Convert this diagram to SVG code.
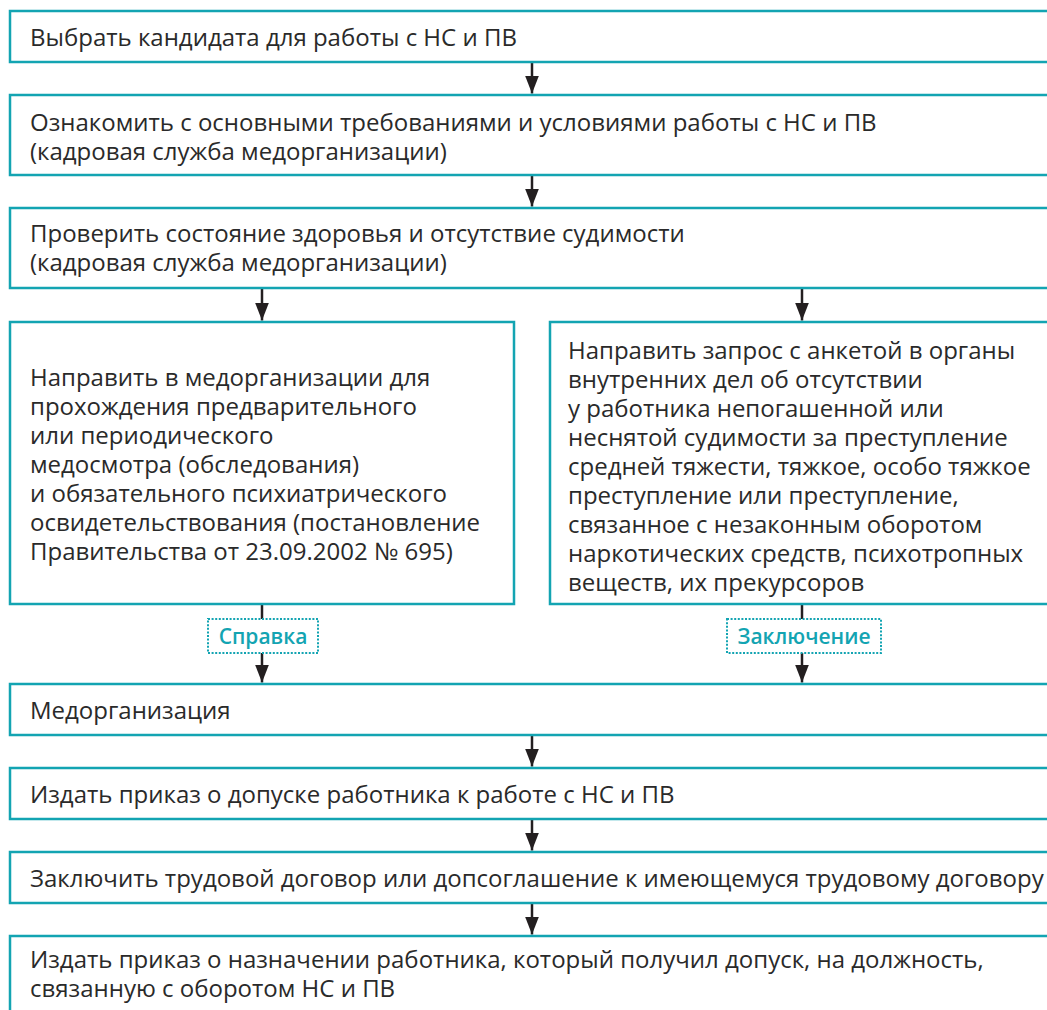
<svg xmlns="http://www.w3.org/2000/svg" width="1047" height="1010" viewBox="0 0 1047 1010">
<defs>
<style>
.box{fill:#fff;stroke:#13a4b2;stroke-width:2.5}
.t{font-family:"Open Sans","Noto Sans","DejaVu Sans",sans-serif;font-size:24px;fill:#2a2a2a}
.lbl{fill:#fff;stroke:#13a4b2;stroke-width:2;stroke-dasharray:2 1.6}
.lt{font-family:"Open Sans","Noto Sans",sans-serif;font-size:21px;font-weight:600;fill:#13a4b2;text-anchor:middle}
.c{stroke:#231f20;stroke-width:2.5;fill:none}
</style>
<marker id="ah" markerUnits="userSpaceOnUse" viewBox="0 0 18 14" refX="18" refY="7" markerWidth="18" markerHeight="14" orient="auto">
<path d="M0,0 L18,7 L0,14 z" fill="#231f20"/>
</marker>
</defs>
<rect width="1047" height="1010" fill="#fff"/>
<g id="connectors">
<line class="c" x1="532" y1="62" x2="532" y2="93.5" marker-end="url(#ah)"/>
<line class="c" x1="532" y1="175" x2="532" y2="206.5" marker-end="url(#ah)"/>
<line class="c" x1="262" y1="288" x2="262" y2="320.5" marker-end="url(#ah)"/>
<line class="c" x1="802" y1="288" x2="802" y2="320.5" marker-end="url(#ah)"/>
<line class="c" x1="262" y1="604" x2="262" y2="619"/>
<line class="c" x1="262" y1="653" x2="262" y2="682.5" marker-end="url(#ah)"/>
<line class="c" x1="802" y1="604" x2="802" y2="619"/>
<line class="c" x1="802" y1="653" x2="802" y2="682.5" marker-end="url(#ah)"/>
<line class="c" x1="532" y1="735" x2="532" y2="766.5" marker-end="url(#ah)"/>
<line class="c" x1="532" y1="819" x2="532" y2="850.5" marker-end="url(#ah)"/>
<line class="c" x1="532" y1="903" x2="532" y2="934.5" marker-end="url(#ah)"/>
</g>
<g id="n1"><rect class="box" x="10" y="11" width="1060" height="51"/>
<text class="t" x="30" y="46">Выбрать кандидата для работы с НС и ПВ</text></g>
<g id="n2"><rect class="box" x="10" y="95" width="1060" height="80"/>
<text class="t" x="30" y="131"><tspan x="30">Ознакомить с основными требованиями и условиями работы с НС и ПВ</tspan><tspan x="30" dy="29">(кадровая служба медорганизации)</tspan></text></g>
<g id="n3"><rect class="box" x="10" y="208" width="1060" height="80"/>
<text class="t" x="30" y="242"><tspan x="30">Проверить состояние здоровья и отсутствие судимости</tspan><tspan x="30" dy="29">(кадровая служба медорганизации)</tspan></text></g>
<g id="n4"><rect class="box" x="10" y="322" width="504" height="282"/>
<text class="t" x="30" y="386"><tspan x="30">Направить в медорганизации для</tspan><tspan x="30" dy="29">прохождения предварительного</tspan><tspan x="30" dy="29">или периодического</tspan><tspan x="30" dy="29">медосмотра (обследования)</tspan><tspan x="30" dy="29">и обязательного психиатрического</tspan><tspan x="30" dy="29">освидетельствования (постановление</tspan><tspan x="30" dy="29">Правительства от 23.09.2002 № 695)</tspan></text></g>
<g id="n5"><rect class="box" x="550" y="322" width="520" height="282"/>
<text class="t" x="568" y="359"><tspan x="568">Направить запрос с анкетой в органы</tspan><tspan x="568" dy="29">внутренних дел об отсутствии</tspan><tspan x="568" dy="29">у работника непогашенной или</tspan><tspan x="568" dy="29">неснятой судимости за преступление</tspan><tspan x="568" dy="29">средней тяжести, тяжкое, особо тяжкое</tspan><tspan x="568" dy="29">преступление или преступление,</tspan><tspan x="568" dy="29">связанное с незаконным оборотом</tspan><tspan x="568" dy="29">наркотических средств, психотропных</tspan><tspan x="568" dy="29">веществ, их прекурсоров</tspan></text></g>
<g id="l1"><rect class="lbl" x="208" y="619" width="110" height="34"/>
<text class="lt" x="263" y="644">Справка</text></g>
<g id="l2"><rect class="lbl" x="727" y="619" width="154" height="34"/>
<text class="lt" x="804" y="644">Заключение</text></g>
<g id="n6"><rect class="box" x="10" y="684" width="1060" height="51"/>
<text class="t" x="30" y="719">Медорганизация</text></g>
<g id="n7"><rect class="box" x="10" y="768" width="1060" height="51"/>
<text class="t" x="30" y="803">Издать приказ о допуске работника к работе с НС и ПВ</text></g>
<g id="n8"><rect class="box" x="10" y="852" width="1060" height="51"/>
<text class="t" x="30" y="887">Заключить трудовой договор или допсоглашение к имеющемуся трудовому договору</text></g>
<g id="n9"><rect class="box" x="10" y="936" width="1060" height="90"/>
<text class="t" x="30" y="968"><tspan x="30">Издать приказ о назначении работника, который получил допуск, на должность,</tspan><tspan x="30" dy="29">связанную с оборотом НС и ПВ</tspan></text></g>
</svg>
